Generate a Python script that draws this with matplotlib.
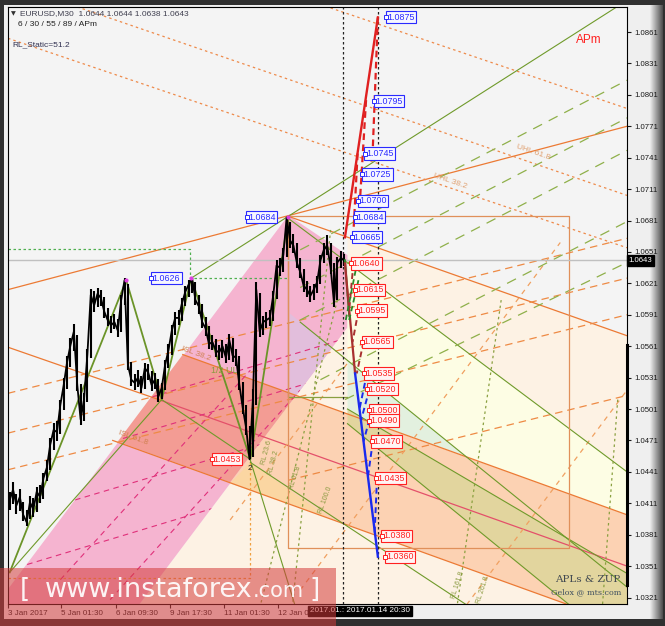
import matplotlib
matplotlib.use("Agg")
import matplotlib.pyplot as plt
import matplotlib.transforms as mtrans
from matplotlib.patches import Polygon, Rectangle
import numpy as np

plt.rcParams['font.family'] = ['Liberation Sans', 'DejaVu Sans']

# ---------------- data (x = M30 bar index from chart start, y = price) ----------------
price_bars = list(range(2, 400, 4))
price_close = [1.0414, 1.0424, 1.0409, 1.0417, 1.0400, 1.0393, 1.0412, 1.0405, 1.0422, 1.0417,
               1.0435, 1.0445, 1.0467, 1.0481, 1.0479, 1.0505, 1.0524, 1.0546, 1.0562, 1.0575,
               1.0524, 1.0491, 1.0510, 1.0553, 1.0610, 1.0600, 1.0611, 1.0607, 1.0594, 1.0586,
               1.0581, 1.0584, 1.0576, 1.0605, 1.0624, 1.0543, 1.0529, 1.0526, 1.0531, 1.0521,
               1.0540, 1.0536, 1.0524, 1.0529, 1.0513, 1.0521, 1.0543, 1.0557, 1.0576, 1.0588,
               1.0588, 1.0602, 1.0613, 1.0620, 1.0626, 1.0605, 1.0599, 1.0584, 1.0578, 1.0563,
               1.0565, 1.0557, 1.0555, 1.0561, 1.0550, 1.0567, 1.0552, 1.0550, 1.0524, 1.0502,
               1.0483, 1.0453, 1.0510, 1.0615, 1.0575, 1.0584, 1.0586, 1.0588, 1.0609, 1.0638,
               1.0636, 1.0648, 1.0684, 1.0662, 1.0657, 1.0641, 1.0632, 1.0619, 1.0615, 1.0609,
               1.0615, 1.0622, 1.0643, 1.0653, 1.0657, 1.0636, 1.0603, 1.0641, 1.0645, 1.0643]
price_high = [1.0422, 1.0431, 1.0420, 1.0425, 1.0412, 1.0405, 1.0418, 1.0416, 1.0427, 1.0428,
              1.0440, 1.0452, 1.0473, 1.0488, 1.0490, 1.0510, 1.0531, 1.0552, 1.0569, 1.0582,
              1.0572, 1.0525, 1.0516, 1.0558, 1.0616, 1.0614, 1.0617, 1.0615, 1.0608, 1.0597,
              1.0590, 1.0592, 1.0587, 1.0610, 1.0626, 1.0620, 1.0546, 1.0534, 1.0538, 1.0533,
              1.0545, 1.0544, 1.0537, 1.0535, 1.0530, 1.0526, 1.0548, 1.0563, 1.0581, 1.0594,
              1.0596, 1.0607, 1.0618, 1.0624, 1.0626, 1.0622, 1.0610, 1.0601, 1.0589, 1.0580,
              1.0572, 1.0568, 1.0562, 1.0567, 1.0563, 1.0573, 1.0569, 1.0558, 1.0552, 1.0527,
              1.0505, 1.0485, 1.0520, 1.0622, 1.0612, 1.0590, 1.0594, 1.0596, 1.0614, 1.0643,
              1.0645, 1.0655, 1.0684, 1.0680, 1.0668, 1.0660, 1.0645, 1.0635, 1.0623, 1.0618,
              1.0620, 1.0628, 1.0648, 1.0660, 1.0667, 1.0660, 1.0640, 1.0646, 1.0652, 1.0649]
price_low = [1.0405, 1.0410, 1.0401, 1.0404, 1.0394, 1.0389, 1.0396, 1.0398, 1.0403, 1.0411,
             1.0415, 1.0432, 1.0443, 1.0462, 1.0470, 1.0477, 1.0500, 1.0520, 1.0541, 1.0556,
             1.0518, 1.0486, 1.0490, 1.0508, 1.0550, 1.0594, 1.0598, 1.0599, 1.0588, 1.0580,
             1.0574, 1.0577, 1.0570, 1.0575, 1.0600, 1.0538, 1.0523, 1.0519, 1.0522, 1.0516,
             1.0520, 1.0529, 1.0518, 1.0520, 1.0508, 1.0511, 1.0519, 1.0540, 1.0553, 1.0572,
             1.0581, 1.0585, 1.0599, 1.0608, 1.0612, 1.0600, 1.0592, 1.0578, 1.0571, 1.0558,
             1.0557, 1.0551, 1.0548, 1.0550, 1.0545, 1.0548, 1.0546, 1.0542, 1.0519, 1.0496,
             1.0476, 1.0453, 1.0455, 1.0505, 1.0570, 1.0572, 1.0578, 1.0580, 1.0585, 1.0606,
             1.0628, 1.0632, 1.0646, 1.0655, 1.0650, 1.0636, 1.0626, 1.0613, 1.0608, 1.0603,
             1.0605, 1.0612, 1.0620, 1.0640, 1.0648, 1.0630, 1.0598, 1.0605, 1.0636, 1.0638]

tick_bars = [0, 63, 128, 192, 256, 320]
tick_labels = ['3 Jan 2017', '5 Jan 01:30', '6 Jan 09:30', '9 Jan 17:30', '11 Jan 01:30', '12 Jan 09:30']
price_ticks = [1.0861, 1.0831, 1.0801, 1.0771, 1.0741, 1.0711, 1.0681, 1.0651, 1.0621, 1.0591,
               1.0561, 1.0531, 1.0501, 1.0471, 1.0441, 1.0411, 1.0381, 1.0351, 1.0321]
last_price = 1.0643
header_ohlc = [1.0644, 1.0644, 1.0638, 1.0643]
x_range = (0, 733)
y_range = (1.03148, 1.08849)
now_bar, end_bar = 397, 438

# targets
up_targets = [1.0665, 1.0684, 1.0700, 1.0725, 1.0745, 1.0795, 1.0875]
up_label_bars = [409, 412, 416, 421, 424, 435, 449]
down_targets = [1.0640, 1.0615, 1.0595, 1.0565, 1.0535, 1.0520, 1.0500, 1.0490, 1.0470, 1.0435, 1.0380, 1.0360]
down_label_bars = [408, 412, 415, 421, 423, 427, 429, 429, 432, 437, 444, 448]
swing_labels = [('1.0626', 171, 1.0626, 'blue'), ('1.0684', 284, 1.0684, 'blue'), ('1.0453', 243, 1.0453, 'red')]

up_path = [(399, 1.0665), (438, 1.0875)]
up_dashed = [[(438, 1.0875), (432, 1.0750)], [(424, 1.0796), (417, 1.0703)], [(414, 1.0745), (409, 1.0669)]]
down_path_red = [(399, 1.0640), (411, 1.0535)]
down_path_green = [(399, 1.0643), (404, 1.0590)]
down_red_dashed = [[(409, 1.0640), (404, 1.0595)], [(415, 1.0595), (408, 1.0565)], [(421, 1.0565), (413, 1.0535)]]
down_green_dashed = [[(404, 1.0586), (415, 1.0624)], [(400, 1.0586), (414, 1.0643)]]
down_path_blue = [(411, 1.0535), (438, 1.0360)]
down_blue_dashed = [[(425, 1.0535), (416, 1.0500)], [(428, 1.0520), (418, 1.0490)], [(431, 1.0500), (421, 1.0470)],
                    [(432, 1.0470), (426, 1.0435)], [(437, 1.0435), (434, 1.0380)]]

# shaded zones (vertices as bar, price)
zone_peach = [(142, 1.0300), (402, 1.0579), (402, 1.0665), (733, 1.0571), (733, 1.0300)]
zone_pink = [(0, 1.0300), (0, 1.0329), (332, 1.0686), (402, 1.0648), (402, 1.0579), (142, 1.0300)]
zone_isl = [(341, 1.0514), (733, 1.0400), (733, 1.0300), (712, 1.0300), (263, 1.0431)]
zone_isl_pink = [(130, 1.0470), (207, 1.0553), (341, 1.0514), (263, 1.0431)]
zone_yellow = [(402, 1.0641), (733, 1.0441), (733, 1.0400), (402, 1.0496)]
zone_mint = [(402, 1.0548), (542, 1.0456), (402, 1.0496)]
zone_lilac = [(334, 1.0592), (402, 1.0548), (402, 1.0496), (334, 1.0516)]
zone_tan = [(402, 1.0501), (733, 1.0344), (733, 1.0300), (686, 1.0300), (402, 1.0487)]
zone_point2 = [(263, 1.0430), (287, 1.0450), (378, 1.0398)]

# trend lines
orange_solid = [[(0, 1.0615), (733, 1.0771)], [(332, 1.0685), (733, 1.0571)],
                [(207, 1.0553), (733, 1.0400)], [(124, 1.0471), (712, 1.0300)],
                [(0, 1.0560), (182, 1.0509)]]
red_solid = [[(182, 1.0509), (733, 1.0351)]]
orange_dotted = [[(382, 1.0884), (733, 1.0788)], [(82, 1.0885), (733, 1.0705)], [(0, 1.0855), (733, 1.0655)]]
orange_dashed = [[(0, 1.0516), (733, 1.0664)], [(0, 1.0478), (733, 1.0626)], [(0, 1.0443), (733, 1.0591)],
                 [(332, 1.0433), (733, 1.0514)]]
orange_steep = [[(346, 1.0328), (654, 1.0660)], [(543, 1.0314), (733, 1.0519)], [(263, 1.0395), (405, 1.0548)]]
magenta_dashed = [[(0, 1.0471), (402, 1.0569)], [(0, 1.0440), (402, 1.0537)], [(0, 1.0395), (402, 1.0492)],
                  [(0, 1.0347), (402, 1.0445)], [(62, 1.0338), (287, 1.0538)], [(121, 1.0319), (346, 1.0519)]]
zigzag = [(2, 1.0345), (140, 1.0624), (182, 1.0510), (217, 1.0626), (287, 1.0453), (332, 1.0684)]
green_solid = [[(2, 1.0345), (182, 1.0510)], [(182, 1.0510), (287, 1.0453)], [(217, 1.0626), (719, 1.0884)],
               [(332, 1.0683), (733, 1.0441)], [(346, 1.0584), (733, 1.0331)], [(402, 1.0501), (733, 1.0344)],
               [(402, 1.0487), (686, 1.0300)], [(287, 1.0450), (543, 1.0314)], [(287, 1.0452), (345, 1.0300)]]
green_dashed = [[(346, 1.0653), (733, 1.0815)], [(346, 1.0617), (733, 1.0779)], [(346, 1.0586), (733, 1.0748)],
                [(370, 1.0529), (733, 1.0680)], [(399, 1.0510), (733, 1.0641)]]
green_dotted = [[(382, 1.0672), (337, 1.0314)], [(584, 1.0605), (532, 1.0314)], [(722, 1.0510), (704, 1.0314)],
                [(390, 1.0605), (299, 1.0314)]]
guide_green_dotted = [(0, 1.0654), (216, 1.0654), (216, 1.0626), (332, 1.0626)]
guide_orange_dotted = [(0, 1.0340), (287, 1.0340), (287, 1.0452)]
guide_olive = [(332, 1.0684), (332, 1.0512), (402, 1.0512)]
box_orange = [(332, 1.0685), (664, 1.0685), (664, 1.0368), (332, 1.0368), (332, 1.0685)]

chart_texts = [('ISL 38.2', 222, 1.0554, -20, '#d08050', 6), ('ISL 61.8', 148, 1.0473, -20, '#d08050', 6),
               ('1/2 UL', 256, 1.0538, 0, '#8a9a40', 6.5), ('UHL 38.2', 524, 1.0718, -19, '#e0a070', 6),
               ('UHL 61.8', 622, 1.0746, -19, '#e0a070', 6), ('RL 23.6', 306, 1.0459, 75, '#8a9a40', 5),
               ('RL 38.2', 315, 1.0450, 75, '#8a9a40', 5), ('RL 61.8', 340, 1.0435, 72, '#8a9a40', 5),
               ('RL 100.0', 376, 1.0414, 70, '#8a9a40', 5), ('RL 161.8', 533, 1.0333, 72, '#8a9a40', 5),
               ('RL 261.8', 562, 1.0328, 72, '#8a9a40', 5), ('2', 287, 1.0444, 0, '#202020', 6)]

# ---------------- figure ----------------
W, H = 665, 626
fig = plt.figure(figsize=(W / 100, H / 100), dpi=100)
fig.patch.set_facecolor('#303030')


def fbox(x0, y0, x1, y1):
    return (x0 / W, 1 - y1 / H), (x1 - x0) / W, (y1 - y0) / H


xy, w, h = fbox(4, 5, 662, 619)
fig.add_artist(Rectangle(xy, w, h, transform=fig.transFigure, fc='#efefef', ec='none', zorder=-2))
gax = fig.add_axes([650 / W, 1 - 619 / H, 13 / W, 614 / H], zorder=-1)
gax.imshow(np.linspace(0.93, 0.30, 40)[None, :], cmap='gray', vmin=0, vmax=1, aspect='auto')
gax.axis('off')

ax = fig.add_axes([8 / W, 1 - 604 / H, 619 / W, 597 / H])
ax.set_facecolor('#f4f4f4')
ax.set_xlim(*x_range)
ax.set_ylim(*y_range)


def poly(pts, color, z, alpha=1.0):
    p = Polygon(pts, closed=True, fc=color, ec='none', alpha=alpha, zorder=z)
    ax.add_patch(p)
    return p


poly(zone_peach, '#fdf2e4', 1.0)
pink_patch = poly(zone_pink, '#f5b4d0', 1.1)
poly(zone_isl, '#fcd2b3', 1.2)
poly(zone_isl_pink, '#f39c94', 1.2)
poly(zone_yellow, '#fdfde4', 1.3)
poly(zone_mint, '#e3f0df', 1.35)
lil = poly(zone_lilac, '#e2bedc', 1.35)
lil.set_clip_path(pink_patch)
poly(zone_tan, '#e0d69c', 1.4, alpha=0.9)
poly(zone_point2, '#fbd6a2', 1.4)


def seg(pts, **kw):
    xs, ys = zip(*pts)
    return ax.plot(xs, ys, **kw)[0]


for s in orange_solid:
    seg(s, color='#ec7a34', lw=0.9, zorder=2)
for s in red_solid:
    seg(s, color='#e4506a', lw=0.9, zorder=2)
for s in orange_dotted:
    seg(s, color='#ee8a4a', lw=0.9, ls=(0, (2, 2.5)), zorder=2)
for s in orange_dashed:
    seg(s, color='#ee8a44', lw=0.9, ls=(0, (6, 4)), zorder=2)
for s in orange_steep:
    seg(s, color='#f0a060', lw=0.9, ls=(0, (4, 4)), zorder=2)
for s in magenta_dashed:
    l = seg(s, color='#e0307a', lw=0.8, ls=(0, (5, 4)), zorder=2)
    l.set_clip_path(pink_patch)
for s in green_solid:
    seg(s, color='#6f9a2a', lw=0.8, zorder=2)
for s in green_dashed:
    seg(s, color='#8fb04a', lw=0.9, ls=(0, (8, 6)), zorder=2)
for s in green_dotted:
    seg(s, color='#8aa040', lw=0.9, ls=(0, (2, 2.5)), zorder=2)
seg(guide_green_dotted, color='#50b050', lw=0.9, ls=(0, (2, 2)), zorder=2)
seg(guide_orange_dotted, color='#f0a040', lw=0.9, ls=(0, (2, 2)), zorder=2)
seg(guide_olive, color='#8aa040', lw=0.9, zorder=2)
seg(box_orange, color='#e0905a', lw=0.9, zorder=2)

ax.axhline(last_price, color='#c0c0c0', lw=1, zorder=2.2)
for b in (now_bar, end_bar):
    ax.axvline(b, color='#222222', lw=0.9, ls=(0, (2, 2)), zorder=2.3)

seg(zigzag, color='#6b9428', lw=1.3, zorder=2.5)
ax.vlines(price_bars, price_low, price_high, color='black', lw=1.5, zorder=3)
ax.plot(price_bars, price_close, color='black', lw=1.3, zorder=3)
ax.plot([zigzag[1][0], zigzag[3][0], zigzag[5][0]], [zigzag[1][1], zigzag[3][1], zigzag[5][1]],
        'o', ms=2, color='#e040e0', zorder=3.1)

# projections
seg(up_path, color='#e02020', lw=1.7, zorder=4)
for s in up_dashed:
    seg(s, color='#e02020', lw=1.6, ls=(0, (3, 2)), zorder=4)
seg(down_path_green, color='#2a8a2a', lw=1.4, zorder=4)
seg(down_path_red, color='#a83030', lw=1.6, zorder=4)
for s in down_red_dashed:
    seg(s, color='#a83030', lw=1.4, ls=(0, (3, 2)), zorder=4)
for s in down_green_dashed:
    seg(s, color='#2a8a2a', lw=1.3, ls=(0, (3, 2)), zorder=4)
seg(down_path_blue, color='#1a2aee', lw=1.7, zorder=4)
for s in down_blue_dashed:
    seg(s, color='#1a2aee', lw=1.4, ls=(0, (3, 2)), zorder=4)

label_style = {'blue': ('#2a2aff', '#f6f6ff'), 'red': ('#ff2020', '#fff4f4')}


def price_label(b, p, txt, kind):
    c, fc = label_style[kind]
    ax.text(b, p, txt, ha='left', va='center', fontsize=6.4, color=c, zorder=5,
            bbox=dict(boxstyle='square,pad=0.18', fc=fc, ec=c, lw=0.8))
    ax.plot([b - 1.5], [p], 's', ms=2.2, mfc='white', mec=c, mew=0.7, zorder=5.1)


for p, b in zip(up_targets, up_label_bars):
    price_label(b, p, '%.4f' % p, 'blue')
for p, b in zip(down_targets, down_label_bars):
    price_label(b, p, '%.4f' % p, 'red')
for txt, b, p, kind in swing_labels:
    price_label(b, p, txt, kind)

for txt, b, p, rot, c, fs in chart_texts:
    ax.text(b, p, txt, rotation=rot, color=c, fontsize=fs, ha='center', va='center', zorder=2.6,
            rotation_mode='anchor')

# axes styling
for sp in ax.spines.values():
    sp.set_color('black')
    sp.set_linewidth(0.8)
ax.yaxis.tick_right()
ax.set_yticks(price_ticks)
ax.set_yticklabels(['%.4f' % v for v in price_ticks])
ax.tick_params(axis='y', length=3, width=0.8, pad=2, labelsize=5.6, colors='#1a1a1a')
ax.set_xticks(tick_bars)
ax.set_xticklabels(tick_labels)
ax.tick_params(axis='x', length=3, width=0.8, pad=1.5, labelsize=5.8, colors='#1a1a1a')
for lbl in ax.get_xticklabels():
    lbl.set_ha('left')
bt = mtrans.blended_transform_factory(ax.transAxes, ax.transData)
ax.plot([1, 1], [1.0562, 1.0333], color='black', lw=2.2, transform=bt, clip_on=False, zorder=6)
ax.text(1.003, last_price, '%.4f' % last_price, transform=bt, ha='left', va='center', fontsize=5.6, color='white',
        bbox=dict(boxstyle='square,pad=0.25', fc='black', ec='black'), zorder=7, clip_on=False)

# header texts
fig.text(11 / W, 1 - 14 / H, '\u25bc', fontsize=4.5, color='#303030', va='center', family='DejaVu Sans')
fig.text(20 / W, 1 - 14 / H, 'EURUSD,M30  ' + ' '.join('%.4f' % v for v in header_ohlc),
         fontsize=6.0, color='#404050', va='center')
fig.text(18 / W, 1 - 25 / H, '6 / 30 / 55 / 89 / APm', fontsize=6.0, color='#202020', va='center')
fig.text(12 / W, 1 - 45 / H, 'RL_Static=51.2', fontsize=6.0, color='#303050', va='center')
fig.text(576 / W, 1 - 40 / H, 'APm', fontsize=8.5, color='#ff2020', va='center')
fig.text(588 / W, 1 - 580 / H, 'APLs & ZUP', fontsize=7.5, color='#404850', va='center', ha='center',
         family='DejaVu Serif')
fig.text(586 / W, 1 - 592 / H, 'Gelox @ mts.com', fontsize=5.8, color='#405060', va='center', ha='center',
         family='DejaVu Serif')
fig.text(310 / W, 1 - 611 / H, '2017.01.: 2017.01.14 20:30', fontsize=5.9, color='white', va='center',
         bbox=dict(boxstyle='square,pad=0.2', fc='black', ec='black'), zorder=8)

# watermark
xy, w, h = fbox(0, 568, 336, 626)
fig.add_artist(Rectangle(xy, w, h, transform=fig.transFigure, fc='#d43c3c', alpha=0.55, ec='none', zorder=20))
r = fig.canvas.get_renderer()
yb = 1 - 597 / H
wm = dict(color='white', va='baseline', zorder=21, alpha=0.92, family='DejaVu Sans')
fig.text(20 / W, yb, '[', fontsize=19, **wm)
t1 = fig.text(45 / W, yb, 'www.instaforex', fontsize=19.5, **wm)
x1 = t1.get_window_extent(r).x1
fig.text(x1 / W, yb, '.com', fontsize=15, **wm)
fig.text(309 / W, yb, ']', fontsize=19, **wm)

fig.savefig('out.png', dpi=100, facecolor=fig.get_facecolor())
